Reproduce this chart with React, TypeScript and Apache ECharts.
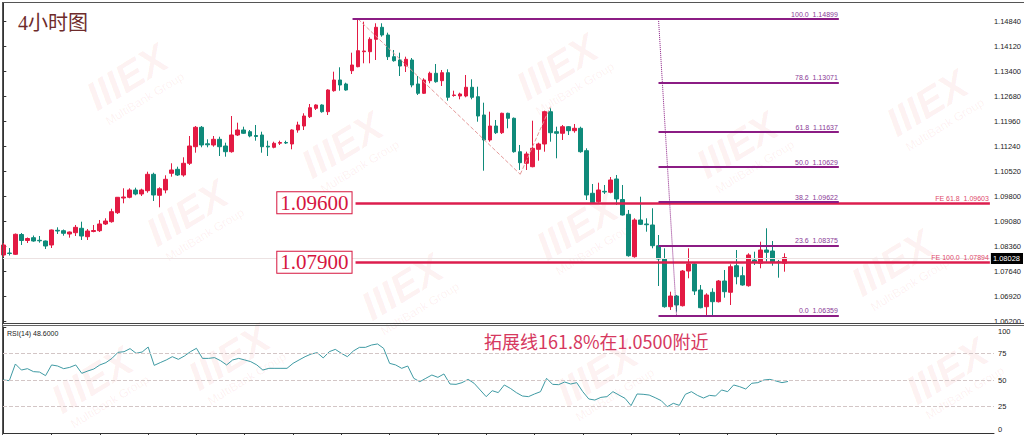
import React, { useEffect, useRef } from 'react';
import * as echarts from 'echarts';

// ---- Data (4H candles, oldest first) ----
const opens = [
  1.08101, 1.08158, 1.08121, 1.08691, 1.08518, 1.08599, 1.08524, 1.08504, 1.08389, 1.08812,
  1.08801, 1.08706, 1.08743, 1.08870, 1.08628, 1.08778, 1.08801, 1.08994, 1.09060, 1.09319,
  1.09742, 1.09763, 1.09973, 1.09858, 1.09953, 1.10425, 1.09820, 1.09973, 1.10454, 1.10569,
  1.10405, 1.10742, 1.11220, 1.11779, 1.11303, 1.11269, 1.11433, 1.11240, 1.11076, 1.11557,
  1.11701, 1.11652, 1.11542, 1.11557, 1.11234, 1.11203, 1.11321, 1.11341, 1.11298, 1.11701,
  1.11816, 1.12084, 1.12326, 1.12421, 1.12228, 1.12833, 1.13141, 1.13026, 1.13409, 1.13524,
  1.13956, 1.13956, 1.14313, 1.14659, 1.14437, 1.13812, 1.13717, 1.13544, 1.13717, 1.13026,
  1.12758, 1.13121, 1.13334, 1.13121, 1.13351, 1.12694, 1.12680, 1.12680, 1.12931, 1.12660,
  1.12133, 1.11413, 1.11816, 1.11623, 1.12182, 1.12038, 1.11076, 1.10742, 1.10644, 1.11145,
  1.11298, 1.12228, 1.11652, 1.11606, 1.11796, 1.11681, 1.11750, 1.11105, 1.09878, 1.09636,
  1.09935, 1.09907, 1.10290, 1.09699, 1.09273, 1.08052, 1.09109, 1.08994, 1.08965, 1.08369,
  1.07986, 1.06612, 1.06920, 1.06641, 1.07640, 1.07842, 1.07093, 1.06612, 1.07027, 1.06756,
  1.07352, 1.07027, 1.07793, 1.07505, 1.07217, 1.07957, 1.07862, 1.08245, 1.08216, 1.07900,
  1.07862,
];
const closes = [
  1.08389, 1.08144, 1.08697, 1.08518, 1.08576, 1.08504, 1.08510, 1.08360, 1.08821, 1.08792,
  1.08726, 1.08763, 1.08898, 1.08648, 1.08792, 1.08806, 1.08994, 1.09080, 1.09348, 1.09763,
  1.09771, 1.09973, 1.09858, 1.09973, 1.10425, 1.09829, 1.10010, 1.10281, 1.10549, 1.10405,
  1.10742, 1.11240, 1.11779, 1.11269, 1.11275, 1.11433, 1.11220, 1.11076, 1.11557, 1.11701,
  1.11606, 1.11528, 1.11514, 1.11220, 1.11211, 1.11318, 1.11341, 1.11326, 1.11701, 1.11845,
  1.12104, 1.12343, 1.12421, 1.12228, 1.12853, 1.13141, 1.12997, 1.12853, 1.13573, 1.13985,
  1.13976, 1.14313, 1.14659, 1.14437, 1.13812, 1.13697, 1.13544, 1.13737, 1.12997, 1.12758,
  1.13141, 1.13334, 1.13092, 1.13351, 1.12643, 1.12709, 1.12738, 1.12931, 1.12643, 1.12104,
  1.11413, 1.11816, 1.11623, 1.12182, 1.12038, 1.11076, 1.10759, 1.11010, 1.11174, 1.11298,
  1.12228, 1.11623, 1.11606, 1.11796, 1.11681, 1.11750, 1.11076, 1.09829, 1.09607, 1.09973,
  1.09915, 1.10261, 1.09714, 1.09253, 1.08081, 1.09109, 1.08985, 1.08973, 1.08369, 1.07986,
  1.06612, 1.06920, 1.06661, 1.07640, 1.07842, 1.07064, 1.06583, 1.06949, 1.06756, 1.07352,
  1.07044, 1.07764, 1.07476, 1.07237, 1.08101, 1.07891, 1.08245, 1.08179, 1.07891, 1.07888,
  1.08028,
];
const lows = [
  1.08043, 1.08086, 1.08101, 1.08389, 1.08446, 1.08484, 1.08455, 1.08274, 1.08302, 1.08706,
  1.08657, 1.08599, 1.08648, 1.08533, 1.08533, 1.08755, 1.08763, 1.08965, 1.09031, 1.09282,
  1.09590, 1.09734, 1.09820, 1.09800, 1.09895, 1.09656, 1.09475, 1.09878, 1.10356, 1.10376,
  1.10356, 1.10693, 1.11047, 1.11203, 1.11203, 1.11220, 1.10952, 1.10932, 1.11047, 1.11528,
  1.11586, 1.11491, 1.11393, 1.11047, 1.10952, 1.11174, 1.11269, 1.11298, 1.11145, 1.11623,
  1.11701, 1.12046, 1.12277, 1.12199, 1.12133, 1.12804, 1.12833, 1.12833, 1.13314, 1.13507,
  1.13622, 1.13622, 1.13717, 1.14388, 1.13717, 1.13668, 1.13256, 1.13371, 1.12931, 1.12709,
  1.12738, 1.13046, 1.13063, 1.12968, 1.12545, 1.12660, 1.12585, 1.12643, 1.12585, 1.11940,
  1.10529, 1.11364, 1.11586, 1.11586, 1.11750, 1.11047, 1.10549, 1.10549, 1.10627, 1.10817,
  1.11076, 1.11364, 1.10886, 1.11413, 1.11557, 1.11623, 1.11047, 1.09685, 1.09570, 1.09607,
  1.09858, 1.09878, 1.09541, 1.09238, 1.08052, 1.08023, 1.08965, 1.08772, 1.08294, 1.07208,
  1.06583, 1.06517, 1.06468, 1.06618, 1.07430, 1.06949, 1.06566, 1.06359, 1.06373, 1.06733,
  1.06871, 1.06661, 1.07257, 1.07217, 1.07188, 1.07813, 1.07718, 1.07908, 1.07793, 1.07447,
  1.07620,
];
const highs = [
  1.08446, 1.08302, 1.08720, 1.08734, 1.08605, 1.08662, 1.08648, 1.08518, 1.08835, 1.08898,
  1.08835, 1.08778, 1.08965, 1.09060, 1.08850, 1.08965, 1.09109, 1.09158, 1.09434, 1.09771,
  1.10022, 1.10022, 1.10039, 1.10010, 1.10500, 1.10471, 1.10051, 1.10396, 1.10742, 1.10644,
  1.10915, 1.11528, 1.11816, 1.11816, 1.11433, 1.11528, 1.11508, 1.11335, 1.12104, 1.11911,
  1.11796, 1.11701, 1.11845, 1.11652, 1.11393, 1.11364, 1.11393, 1.11393, 1.11721, 1.11940,
  1.12182, 1.12450, 1.12441, 1.12441, 1.12873, 1.13380, 1.13507, 1.13063, 1.13927, 1.14899,
  1.14820, 1.14371, 1.14774, 1.14774, 1.14503, 1.14005, 1.13927, 1.13812, 1.13774, 1.13256,
  1.13190, 1.13380, 1.13602, 1.13429, 1.13449, 1.12833, 1.12775, 1.13285, 1.13161, 1.12948,
  1.12487, 1.12228, 1.11989, 1.12199, 1.12199, 1.12061, 1.11269, 1.11076, 1.11969, 1.11335,
  1.12257, 1.12326, 1.11796, 1.11845, 1.11816, 1.11874, 1.11796, 1.11174, 1.10146, 1.10183,
  1.10117, 1.10347, 1.10405, 1.10117, 1.09397, 1.09158, 1.09780, 1.09158, 1.09446, 1.08677,
  1.08294, 1.07044, 1.06949, 1.07669, 1.08294, 1.07862, 1.07237, 1.06998, 1.07142, 1.07381,
  1.07669, 1.07833, 1.08245, 1.07764, 1.08150, 1.08196, 1.08484, 1.08870, 1.08504, 1.07957,
  1.08150,
];
const rsiValues = [
  50.0, 49.4, 65.1, 59.4, 60.7, 57.9, 57.5, 54.1, 64.2, 63.2,
  60.7, 61.9, 64.2, 56.3, 58.5, 60.4, 64.2, 66.4, 70.4, 76.1,
  76.7, 79.6, 75.2, 76.4, 81.1, 63.8, 66.4, 68.9, 72.0, 69.5,
  72.6, 76.7, 79.9, 70.4, 70.4, 71.1, 68.2, 64.2, 68.9, 70.4,
  68.9, 67.3, 64.2, 59.4, 61.0, 61.0, 61.0, 61.0, 65.7, 68.9,
  72.0, 74.5, 75.8, 70.8, 76.7, 78.9, 75.2, 72.0, 77.4, 80.8,
  80.8, 83.0, 84.0, 79.9, 65.7, 64.2, 61.0, 63.2, 51.6, 48.4,
  51.6, 54.7, 52.5, 55.7, 46.2, 45.9, 47.5, 50.6, 46.9, 40.6,
  34.3, 39.9, 38.1, 45.3, 42.1, 38.1, 34.9, 34.3, 36.8, 39.0,
  51.6, 45.9, 45.6, 48.1, 46.2, 47.5, 39.0, 32.1, 31.1, 33.6,
  34.3, 39.0, 35.8, 32.7, 25.8, 36.8, 36.5, 35.8, 33.3, 30.5,
  24.8, 28.0, 26.1, 36.5, 39.0, 35.5, 33.0, 35.5, 34.9, 40.6,
  39.0, 45.3, 43.7, 41.5, 46.9, 47.5, 50.0, 50.6, 49.1, 47.5,
  48.6,
];

const priceTicks = [1.062, 1.0692, 1.0764, 1.0836, 1.0908, 1.098, 1.1052, 1.1124, 1.1196, 1.1268, 1.134, 1.1412, 1.1484];
const rsiTicks = [0, 25, 50, 75, 100];
const rsiLevels = [25, 50, 75];
const timeTicks = [8, 16, 24, 32, 40, 48, 56, 64, 72, 80, 88, 96, 104, 112, 120, 128];

const fibRatios = ['100.0', '78.6', '61.8', '50.0', '38.2', '23.6', '0.0'];
const fibPrices = [1.14899, 1.13071, 1.11637, 1.10629, 1.09622, 1.08375, 1.06359];
const fibStartBars = [58.1, 109, 109, 109, 109, 109, 109];
const fibEndBar = 139;
const fibDiagonal = [[109, 1.14899], [112, 1.06359]];

const feNames = ['FE 61.8', 'FE 100.0'];
const fePrices = [1.09603, 1.07894];
const keyLevelTexts = ['1.09600', '1.07900'];
const feStartBar = 58.6;
const feAnchors = [[59, 1.14899], [86, 1.10425], [91, 1.12368]];
const lastPrice = 1.08028;

const titleText = '4小时图';
const noteText = '拓展线161.8%在1.0500附近';

// ---- layout / style constants ----
const X_MIN = -0.05;
const X_MAX = 164.13;
const Y_MIN = 1.061424;
const Y_MAX = 1.153584;
const UP = '#e31a43';
const DOWN = '#0f8a7a';
const FIB = '#8b1c84';
const FIB_TXT = '#8a3a96';
const RED = '#dc1e4e';
const AXIS_FONT = 'Liberation Sans';

const wmCenters = [
  [130, 82], [190, 218], [345, 150], [560, 72], [580, 232], [405, 292],
  [232, 362], [930, 108], [895, 268], [740, 150], [95, 385], [600, 378], [950, 376],
];

function watermark(cx: number, cy: number) {
  const fill = 'rgba(225,50,50,0.07)';
  return {
    type: 'group',
    x: cx,
    y: cy,
    rotation: 0.55,
    silent: true,
    z: 0,
    children: [
      { type: 'text', x: 0, y: -6, style: { text: 'IIIEX', fill, font: 'italic bold 40px "Liberation Sans"', align: 'center', verticalAlign: 'middle' } },
      { type: 'text', x: 4, y: 22, style: { text: 'MultiBank Group', fill, font: '12px "Liberation Sans"', align: 'center', verticalAlign: 'middle' } },
    ],
  };
}

function buildOption() {
  const candles = opens.map((o, i) => [i, o, closes[i], lows[i], highs[i]]);
  const rsiData = rsiValues.map((v, i) => [i, v]);

  const fibLines = fibPrices.map((p, i) => [
    {
      coord: [fibStartBars[i], p],
      lineStyle: { color: FIB, width: 2, type: 'solid', opacity: 1 },
      label: {
        show: true,
        position: 'insideEndTop',
        formatter: `${fibRatios[i]}  ${p.toFixed(5)}`,
        color: FIB_TXT,
        fontSize: 7,
        fontFamily: AXIS_FONT,
        distance: 1,
      },
    },
    { coord: [fibEndBar, p] },
  ]);

  const feLines = fePrices.map((p, i) => [
    {
      coord: [feStartBar, p],
      lineStyle: { color: RED, width: 2.5, type: 'solid', opacity: 1 },
      label: {
        show: true,
        position: 'start',
        formatter: keyLevelTexts[i],
        color: '#d6163f',
        fontSize: 21,
        fontFamily: 'Liberation Serif',
        lineHeight: 18,
        backgroundColor: '#ffffff',
        borderColor: '#d6163f',
        borderWidth: 1,
        padding: [2, 3, 1, 3],
        distance: 4,
      },
    },
    { coord: [X_MAX, p] },
  ]);

  const feTexts = fePrices.map((p, i) => [
    {
      coord: [feStartBar, p],
      lineStyle: { color: 'rgba(0,0,0,0)', width: 1, opacity: 1 },
      label: {
        show: true,
        position: 'insideEndTop',
        formatter: `${feNames[i]}  ${p.toFixed(5)}`,
        color: '#e04a6c',
        opacity: 1,
        fontSize: 7,
        fontFamily: AXIS_FONT,
        distance: 1,
      },
    },
    { coord: [X_MAX, p] },
  ]);

  const feDashed = [
    [
      { coord: feAnchors[0], lineStyle: { color: '#e59a9a', type: 'dashed', width: 1, opacity: 1 }, label: { show: false } },
      { coord: feAnchors[1] },
    ],
    [
      { coord: feAnchors[1], lineStyle: { color: '#e59a9a', type: 'dashed', width: 1, opacity: 1 }, label: { show: false } },
      { coord: feAnchors[2] },
    ],
  ];

  const diag = [
    [
      { coord: fibDiagonal[0], lineStyle: { color: FIB, type: 'dotted', width: 1, opacity: 1 }, label: { show: false } },
      { coord: fibDiagonal[1] },
    ],
  ];

  const currentLine = {
    yAxis: lastPrice,
    lineStyle: { color: '#ece2e2', width: 1, type: 'solid', opacity: 1 },
    label: {
      show: true,
      position: 'end',
      formatter: lastPrice.toFixed(5),
      backgroundColor: '#000000',
      color: '#ffffff',
      fontSize: 7.5,
      fontFamily: AXIS_FONT,
      padding: [2, 3, 1, 2],
      distance: 1,
    },
  };

  const frameLines = [
    [2, 2.5, 1024, 2.5, '#555555'],
    [2.5, 2, 2.5, 435, '#555555'],
    [2, 323.5, 1024, 323.5, '#444444'],
    [2, 325.5, 1024, 325.5, '#666666'],
  ].map(([x1, y1, x2, y2, c]) => ({
    type: 'line',
    silent: true,
    z: 100,
    shape: { x1, y1, x2, y2 },
    style: { stroke: c as string, lineWidth: 1 },
  }));

  return {
    animation: false,
    backgroundColor: '#ffffff',
    grid: [
      { left: 3, top: 3, width: 991, height: 320 },
      { left: 3, top: 327, width: 991, height: 106 },
    ],
    xAxis: [
      { type: 'value', gridIndex: 0, min: X_MIN, max: X_MAX, show: false },
      {
        type: 'value',
        gridIndex: 1,
        min: X_MIN,
        max: X_MAX,
        axisLine: { show: true, lineStyle: { color: '#333333', width: 1 } },
        axisTick: { show: true, customValues: timeTicks, length: 3, lineStyle: { color: '#333333' } },
        axisLabel: { show: false },
        splitLine: { show: false },
      },
    ],
    yAxis: [
      {
        type: 'value',
        gridIndex: 0,
        position: 'right',
        min: Y_MIN,
        max: Y_MAX,
        axisLine: { show: true, lineStyle: { color: '#333333', width: 1 } },
        axisTick: { show: true, customValues: priceTicks, length: 3, lineStyle: { color: '#333333' } },
        axisLabel: {
          customValues: priceTicks,
          formatter: (v: number) => v.toFixed(5),
          fontSize: 7.5,
          fontFamily: AXIS_FONT,
          color: '#222222',
          margin: 4,
        },
        splitLine: { show: false },
      },
      {
        type: 'value',
        gridIndex: 1,
        position: 'right',
        min: 0,
        max: 100,
        axisLine: { show: true, lineStyle: { color: '#333333', width: 1 } },
        axisTick: { show: true, customValues: rsiTicks, length: 3, lineStyle: { color: '#333333' } },
        axisLabel: {
          customValues: rsiTicks,
          formatter: (v: number) => String(v),
          fontSize: 7.5,
          fontFamily: AXIS_FONT,
          color: '#222222',
          margin: 4,
          verticalAlignMaxLabel: 'top',
          verticalAlignMinLabel: 'bottom',
        },
        splitLine: { show: false },
      },
    ],
    series: [
      {
        type: 'candlestick',
        xAxisIndex: 0,
        yAxisIndex: 0,
        data: candles,
        barWidth: 4,
        clip: true,
        itemStyle: {
          color: UP,
          color0: DOWN,
          borderColor: UP,
          borderColor0: DOWN,
          borderColorDoji: DOWN,
          borderWidth: 1,
        },
        markLine: {
          symbol: ['none', 'none'],
          silent: true,
          animation: false,
          emphasis: { disabled: true },
          label: { show: false },
          data: [currentLine, ...feLines, ...feDashed, ...fibLines, ...diag, ...feTexts],
        },
      },
      {
        type: 'line',
        xAxisIndex: 1,
        yAxisIndex: 1,
        data: rsiData,
        symbol: 'none',
        showSymbol: false,
        lineStyle: { color: '#3f9aa3', width: 1 },
        markLine: {
          symbol: ['none', 'none'],
          silent: true,
          animation: false,
          emphasis: { disabled: true },
          label: { show: false },
          lineStyle: { color: '#d3c6c6', type: 'dashed', width: 1 },
          data: rsiLevels.map((l) => ({ yAxis: l })),
        },
      },
    ],
    graphic: [
      ...wmCenters.map(([x, y]) => watermark(x, y)),
      {
        type: 'text',
        x: 18,
        y: 23,
        z: 90,
        silent: true,
        style: { text: titleText, fill: '#6e2b2b', font: '20px "Liberation Serif", "Noto Sans CJK SC", serif', align: 'left', verticalAlign: 'middle' },
      },
      {
        type: 'text',
        x: 7,
        y: 333,
        z: 90,
        silent: true,
        style: { text: `RSI(14) ${rsiValues[rsiValues.length - 1].toFixed(4)}`, fill: '#222222', font: `7px "${AXIS_FONT}"`, align: 'left', verticalAlign: 'middle' },
      },
      {
        type: 'text',
        x: 484,
        y: 341,
        z: 90,
        silent: true,
        style: { text: noteText, fill: '#d6385e', font: '18px "Noto Sans CJK SC"', align: 'left', verticalAlign: 'middle' },
      },
      ...frameLines,
    ],
  };
}

export default function App() {
  const ref = useRef<HTMLDivElement>(null);
  useEffect(() => {
    if (!ref.current) return;
    const chart = echarts.init(ref.current, null, { renderer: 'svg' });
    chart.setOption(buildOption() as any);
    return () => chart.dispose();
  }, []);
  return <div ref={ref} style={{ position: 'absolute', left: 0, top: 0, width: 1024, height: 435 }} />;
}
